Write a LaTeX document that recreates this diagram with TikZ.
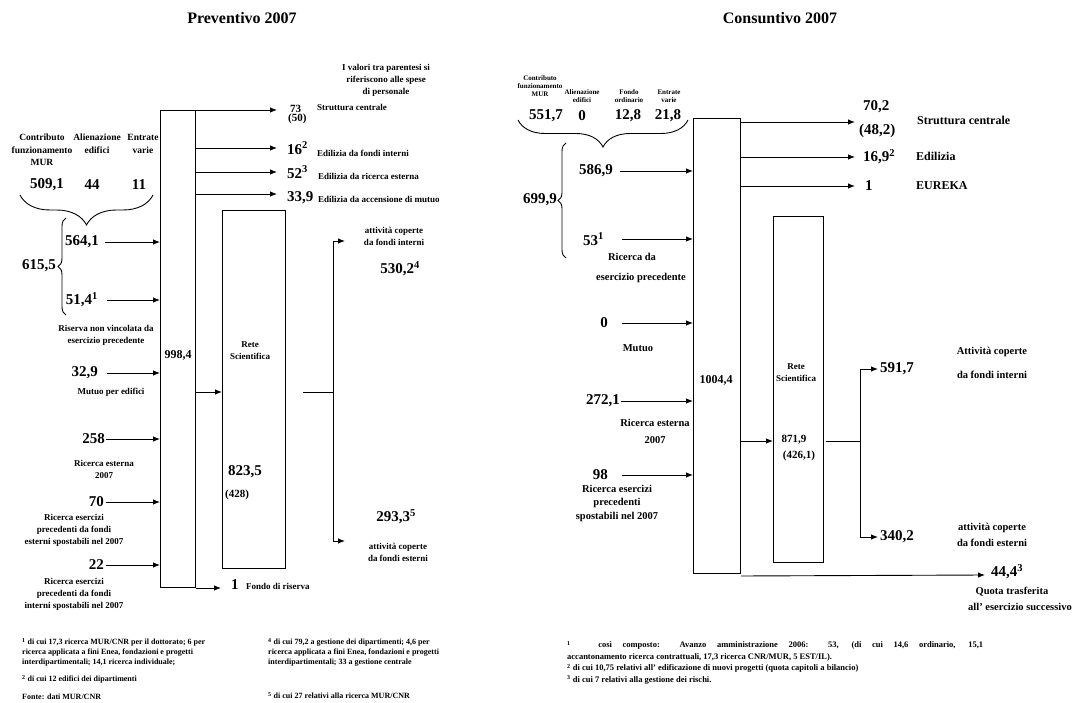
\documentclass[tikz,border=0pt]{standalone}
\usepackage{fontspec}
\setmainfont{Liberation Serif}
\usetikzlibrary{arrows.meta,decorations.pathreplacing}
\newcommand{\fsz}[2]{\fontsize{#1}{#2}\selectfont\bfseries}
\tikzset{
    cassa/.style={draw, line width=1pt, inner sep=0pt, anchor=north west},
    flusso/.style={-{Latex[length=7pt,width=5.5pt]}, line width=0.9pt},
    linea/.style={line width=0.9pt},
    graffa/.style={decorate, line width=0.9pt, decoration={brace, amplitude=#1}},
    titolo/.style={font=\fsz{16}{18}},
    valore/.style={font=\fsz{15}{17}, inner sep=0pt},
    medio/.style={font=\fsz{11}{10}, inner sep=0pt},
    voce/.style={font=\fsz{9}{12}, align=center, inner sep=0pt},
    vocedx/.style={font=\fsz{10.5}{13.5}, align=center, inner sep=0pt},
    vocegr/.style={font=\fsz{12}{14}, inner sep=0pt, anchor=west},
    intest/.style={font=\fsz{9.5}{12.5}, align=center, inner sep=0pt},
    nota/.style={font=\fsz{8}{10}, align=left, inner sep=0pt, anchor=north west}
}
\begin{document}
\begin{tikzpicture}[x=1pt, y=-1pt]
    \useasboundingbox (0,0) rectangle (1088,703);

    % Preventivo 2007
    \node[titolo] (tprev) at (242,18) {Preventivo 2007};
    \node[intest] (hmur) at (42,150) {Contributo\\funzionamento\\MUR};
    \node[intest] (hali) at (97,144) {Alienazione\\edifici};
    \node[intest] (hent) at (143,144) {Entrate\\varie};
    \node[valore] (v5091) at (47,185) {509,1};
    \node[valore] (v44) at (92,185) {44};
    \node[valore] (v11) at (139,185) {11};
    \draw[graffa=30pt] (153,195) -- (20,195);
    \draw[graffa=8pt] (66,315) -- (66,218);
    \node[valore, anchor=east] (v6155) at (56,266) {615,5};

    \node[cassa, minimum width=35, minimum height=477] (bil) at (160,110) {};
    \node[font=\fsz{12}{14}, inner sep=0pt] (n9984) at (178,355) {998,4};
    \node[cassa, minimum width=63, minimum height=358] (rete) at (222,210) {};
    \node[voce] (lrete) at (250,351) {Rete\\Scientifica};
    \node[valore] (v8235) at (245,472) {823,5};
    \node[medio] (v428) at (237,495) {(428)};

    \node[valore, anchor=east] (v5641) at (99,242) {564,1};
    \node[valore, anchor=east] (v514) at (98,300) {51,4\textsuperscript{1}};
    \node[voce] (lris) at (106,335) {Riserva non vincolata da\\esercizio precedente};
    \node[valore, anchor=east] (v329) at (98,373) {32,9};
    \node[voce] (lmut) at (111,392) {Mutuo per edifici};
    \node[valore, anchor=east] (v258) at (105,439) {258};
    \node[voce] (lest) at (104,469) {Ricerca esterna\\2007};
    \node[valore, anchor=east] (v70) at (104,502) {70};
    \node[voce] (lpre1) at (74,530) {Ricerca esercizi\\precedenti da fondi\\esterni spostabili nel 2007};
    \node[valore, anchor=east] (v22) at (104,565) {22};
    \node[voce] (lpre2) at (74,594) {Ricerca esercizi\\precedenti da fondi\\interni spostabili nel 2007};

    \draw[flusso] ([xshift=6]v5641.east) -- (v5641.east -| bil.west);
    \draw[flusso] ([xshift=9]v514.east) -- (v514.east -| bil.west);
    \draw[flusso] ([xshift=9]v329.east) -- (v329.east -| bil.west);
    \draw[flusso] ([xshift=1]v258.east) -- (v258.east -| bil.west);
    \draw[flusso] ([xshift=2]v70.east) -- (v70.east -| bil.west);
    \draw[flusso] ([xshift=2]v22.east) -- (v22.east -| bil.west);

    \node[voce] (lpar) at (386,80) {I valori tra parentesi si\\riferiscono alle spese\\di personale};
    \node[medio, anchor=west] (o73) at (290,109) {73};
    \node[medio, anchor=west] (o50) at (288,119) {(50)};
    \node[valore, anchor=west] (o16) at (287,148) {16\textsuperscript{2}};
    \node[valore, anchor=west] (o52) at (287,172) {52\textsuperscript{3}};
    \node[valore, anchor=west] (o339) at (287,198) {33,9};
    \node[voce, anchor=west] (lstr) at (317,107) {Struttura centrale};
    \node[voce, anchor=west] (led1) at (317,153) {Edilizia da fondi interni};
    \node[voce, anchor=west] (led2) at (318,176) {Edilizia da ricerca esterna};
    \node[voce, anchor=west] (led3) at (318,199) {Edilizia da accensione di mutuo};
    \draw[flusso] (bil.north east) -- ([xshift=-13]o73.west |- bil.north east);
    \draw[flusso] (o16.west -| bil.east) -- ([xshift=-10]o16.west);
    \draw[flusso] (o52.west -| bil.east) -- ([xshift=-10]o52.west);
    \draw[flusso] ([yshift=4]o339.west -| bil.east) -- ([xshift=-10,yshift=4]o339.west);

    \coordinate (split) at (333,392);
    \coordinate (fint) at (345,241);
    \coordinate (fest) at (345,541);
    \draw[flusso] (split -| bil.east) -- (split -| rete.west);
    \draw[linea] ([xshift=17]rete.east |- split) -- (split);
    \draw[flusso] (split) |- (fint);
    \draw[flusso] (split) |- (fest);
    \node[voce] (lint) at (394,236) {attività coperte\\da fondi interni};
    \node[valore] (v5302) at (400,269) {530,2\textsuperscript{4}};
    \node[valore] (v2933) at (396,517) {293,3\textsuperscript{5}};
    \node[voce] (lext) at (398,552) {attività coperte\\da fondi esterni};

    \node[valore, anchor=west] (fr1) at (231,585) {1};
    \node[voce, anchor=west] (lfr) at (246,586) {Fondo di riserva};
    \draw[flusso] (bil.south east) -- ([xshift=-10]fr1.west |- bil.south east);

    \node[nota] (nota1) at (22,638) {\textsuperscript{1} di cui 17,3 ricerca MUR/CNR per il dottorato; 6 per\\ricerca applicata a fini Enea, fondazioni e progetti\\interdipartimentali; 14,1 ricerca individuale;};
    \node[nota] (nota2) at (22,675) {\textsuperscript{2} di cui 12 edifici dei dipartimenti};
    \node[nota] (nota3) at (22,694) {Fonte: dati MUR/CNR};
    \node[nota] (nota4) at (268,638) {\textsuperscript{4} di cui 79,2 a gestione dei dipartimenti; 4,6 per\\ricerca applicata a fini Enea, fondazioni e progetti\\interdipartimentali; 33 a gestione centrale};
    \node[nota] (nota5) at (268,692) {\textsuperscript{5} di cui 27 relativi alla ricerca MUR/CNR};

    % Consuntivo 2007
    \node[titolo] (tcons) at (780,18) {Consuntivo 2007};
    \node[font=\fsz{7}{8}, align=center, inner sep=0pt] (hmur2) at (540,86) {Contributo\\funzionamento\\MUR};
    \node[font=\fsz{7}{8}, align=center, inner sep=0pt] (hali2) at (582,96) {Alienazione\\edifici};
    \node[font=\fsz{7}{8}, align=center, inner sep=0pt] (hfon2) at (629,96) {Fondo\\ordinario};
    \node[font=\fsz{7}{8}, align=center, inner sep=0pt] (hent2) at (669,96) {Entrate\\varie};
    \node[valore] (v5517) at (546,116) {551,7};
    \node[valore] (v0a) at (582,116) {0};
    \node[valore] (v128) at (628,116) {12,8};
    \node[valore] (v218) at (668,116) {21,8};
    \draw[graffa=27pt] (688,120) -- (518,120);
    \draw[graffa=8pt] (566,258) -- (566,143);
    \node[valore, anchor=east] (v6999) at (557,200) {699,9};

    \node[cassa, minimum width=47, minimum height=455] (cons) at (693,118) {};
    \node[font=\fsz{12}{14}, inner sep=0pt] (n10044) at (716,380) {1004,4};
    \node[cassa, minimum width=50, minimum height=346] (retec) at (773,216) {};
    \node[font=\fsz{9}{12}, align=center, inner sep=0pt] (lretec) at (796,373) {Rete\\Scientifica};
    \node[font=\fsz{11}{12}, inner sep=0pt] (v8719) at (794,440) {871,9};
    \node[font=\fsz{11}{12}, inner sep=0pt] (v4261) at (799,456) {(426,1)};

    \node[valore, anchor=east] (v5869) at (613,171) {586,9};
    \node[valore, anchor=east] (v53) at (604,239) {53\textsuperscript{1}};
    \node[vocedx] (lrde1) at (632,257) {Ricerca da};
    \node[vocedx] (lrde2) at (641,278) {esercizio precedente};
    \node[valore, anchor=east] (v0b) at (608,323) {0};
    \node[vocedx] (lmut2) at (638,348) {Mutuo};
    \node[valore, anchor=east] (v2721) at (620,401) {272,1};
    \node[font=\fsz{10.5}{17}, align=center, inner sep=0pt] (lest2) at (655,431) {Ricerca esterna\\2007};
    \node[valore, anchor=east] (v98) at (608,475) {98};
    \node[vocedx] (lpre3) at (617,503) {Ricerca esercizi\\precedenti\\spostabili nel 2007};

    \draw[flusso] ([xshift=7]v5869.east) -- (v5869.east -| cons.west);
    \draw[flusso] ([xshift=18]v53.east) -- (v53.east -| cons.west);
    \draw[flusso] ([xshift=14]v0b.east) -- (v0b.east -| cons.west);
    \draw[flusso] ([xshift=1]v2721.east) -- (v2721.east -| cons.west);
    \draw[flusso] ([xshift=14]v98.east) -- (v98.east -| cons.west);

    \coordinate (e702) at (855,122);
    \node[valore, anchor=west] (o702) at (863,107) {70,2};
    \node[valore, anchor=west] (o482) at (859,131) {(48,2)};
    \node[valore, anchor=west] (o169) at (863,157) {16,9\textsuperscript{2}};
    \node[valore, anchor=west] (o1) at (865,186) {1};
    \node[vocegr] (lstr2) at (917,120) {Struttura centrale};
    \node[vocegr] (ledi) at (916,156) {Edilizia};
    \node[vocegr] (leur) at (916,186) {EUREKA};
    \draw[flusso] (e702 -| cons.east) -- (e702);
    \draw[flusso] (o169.west -| cons.east) -- ([xshift=-8]o169.west);
    \draw[flusso] (o1.west -| cons.east) -- ([xshift=-10]o1.west);

    \coordinate (split2) at (860,441);
    \coordinate (fint2) at (878,369);
    \coordinate (fest2) at (878,537);
    \draw[flusso] (split2 -| cons.east) -- (split2 -| retec.west);
    \draw[linea] ([xshift=2]retec.east |- split2) -- (split2);
    \draw[flusso] (split2) |- (fint2);
    \draw[flusso] (split2) |- (fest2);
    \node[valore, anchor=west] (v5917) at (880,369) {591,7};
    \node[valore, anchor=west] (v3402) at (880,537) {340,2};
    \node[vocedx] (lint2a) at (992,352) {Attività coperte};
    \node[vocedx] (lint2b) at (992,375) {da fondi interni};
    \node[vocedx] (lext2a) at (992,528) {attività coperte};
    \node[vocedx] (lext2b) at (992,543) {da fondi esterni};

    \coordinate (qend) at (985,575);
    \draw[flusso] (cons.south east) ++(0,2) -- (qend);
    \node[valore] (v444) at (1007,572) {44,4\textsuperscript{3}};
    \node[vocedx] (lquo1) at (1012,592) {Quota trasferita};
    \node[vocedx] (lquo2) at (1020,607) {all' esercizio successivo};

    \node[nota, font=\fsz{8.5}{11.5}] (nota6) at (567,641) {\makebox[416pt][s]{\textsuperscript{1}\hspace{2em} così composto: Avanzo amministrazione 2006: 53, (di cui 14,6 ordinario, 15,1}\\accantonamento ricerca contrattuali, 17,3 ricerca CNR/MUR, 5 EST/IL).\\\textsuperscript{2} di cui 10,75 relativi all' edificazione di nuovi progetti (quota capitoli a bilancio)\\\textsuperscript{3} di cui 7 relativi alla gestione dei rischi.};
\end{tikzpicture}
\end{document}
